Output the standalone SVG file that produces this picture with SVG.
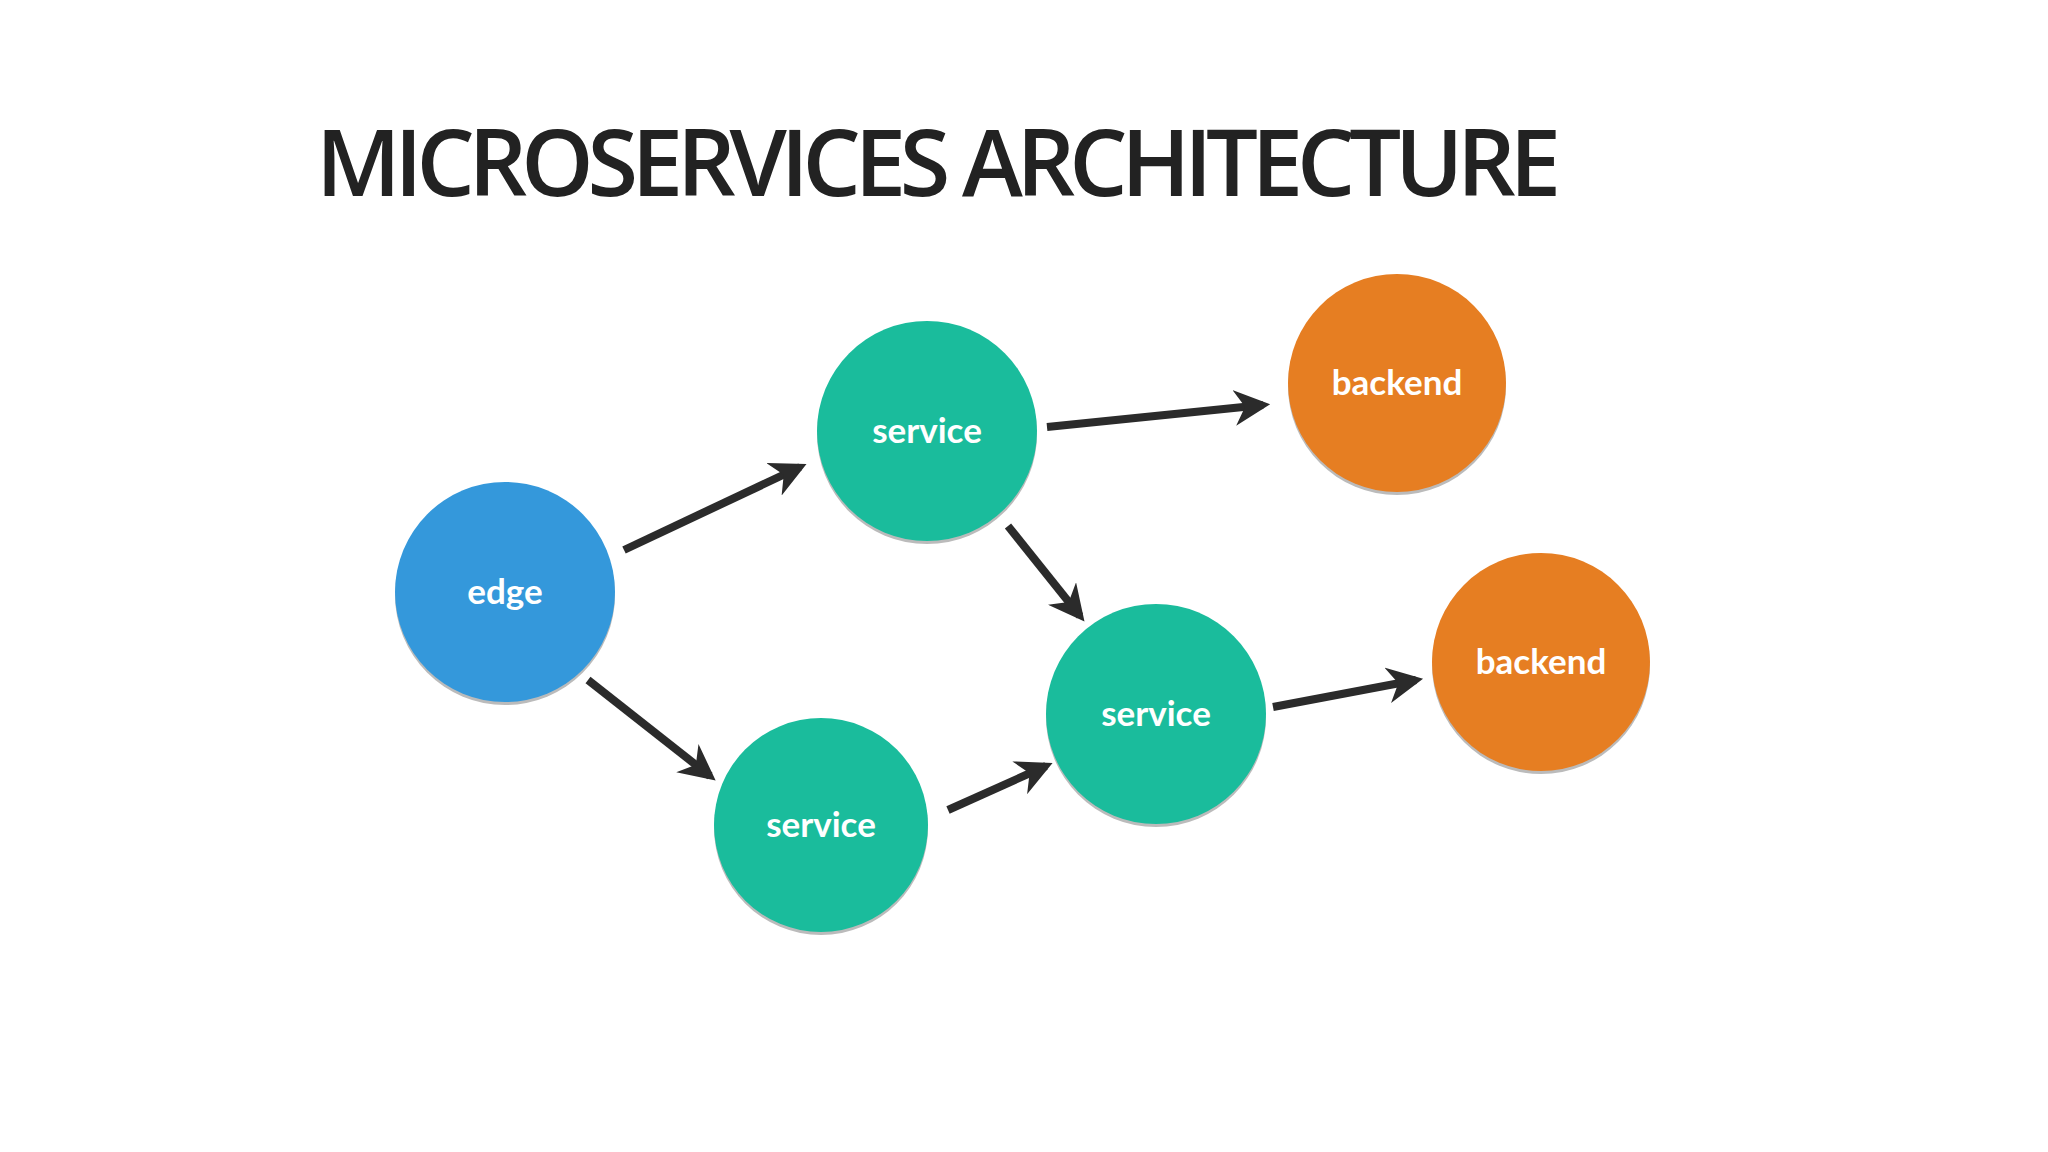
<svg xmlns="http://www.w3.org/2000/svg" width="2048" height="1152" viewBox="0 0 2048 1152">
<style>
.lbl{font-family:Lato,"Liberation Sans",sans-serif;font-weight:700;font-size:35px;fill:#fff;text-anchor:middle}
.edge{fill:#3498DB}.svc{fill:#1ABC9C}.be{fill:#E67E22}
.sh{fill:#bbb}
.conn{stroke:#2b2b2b;stroke-width:8;fill:none;marker-end:url(#ah)}
</style>
<defs>
<marker id="ah" viewBox="0 0 10 10" refX="8" refY="5" markerWidth="4.5" markerHeight="4.5" orient="auto" markerUnits="strokeWidth">
<path d="M0,0 L10,5 L0,10 L3,5 Z" fill="#2b2b2b"/>
</marker>
</defs>
<rect width="2048" height="1152" fill="#fff"/>
<text x="316" y="196" font-family="'Open Sans','Noto Sans',sans-serif" font-weight="600" font-size="92" fill="#222" textLength="1245">MICROSERVICES ARCHITECTURE</text>
<g id="connectors">
<line class="conn" x1="624" y1="550" x2="800" y2="467"/>
<line class="conn" x1="588" y1="680" x2="710" y2="776"/>
<line class="conn" x1="1047" y1="427" x2="1263" y2="405"/>
<line class="conn" x1="1008" y1="526" x2="1080" y2="616"/>
<line class="conn" x1="948" y1="810" x2="1046" y2="766"/>
<line class="conn" x1="1273" y1="707" x2="1416" y2="680"/>
</g>
<g id="edge"><circle class="sh" cx="505" cy="595" r="110"/><circle class="edge" cx="505" cy="592" r="110"/><text class="lbl" x="505" y="604">edge</text></g>
<g id="service1"><circle class="sh" cx="927" cy="434" r="110"/><circle class="svc" cx="927" cy="431" r="110"/><text class="lbl" x="927" y="443">service</text></g>
<g id="backend1"><circle class="sh" cx="1397" cy="386" r="109"/><circle class="be" cx="1397" cy="383" r="109"/><text class="lbl" x="1397" y="395">backend</text></g>
<g id="service2"><circle class="sh" cx="1156" cy="717" r="110"/><circle class="svc" cx="1156" cy="714" r="110"/><text class="lbl" x="1156" y="726">service</text></g>
<g id="backend2"><circle class="sh" cx="1541" cy="665" r="109"/><circle class="be" cx="1541" cy="662" r="109"/><text class="lbl" x="1541" y="674">backend</text></g>
<g id="service3"><circle class="sh" cx="821" cy="828" r="107"/><circle class="svc" cx="821" cy="825" r="107"/><text class="lbl" x="821" y="837">service</text></g>
</svg>
